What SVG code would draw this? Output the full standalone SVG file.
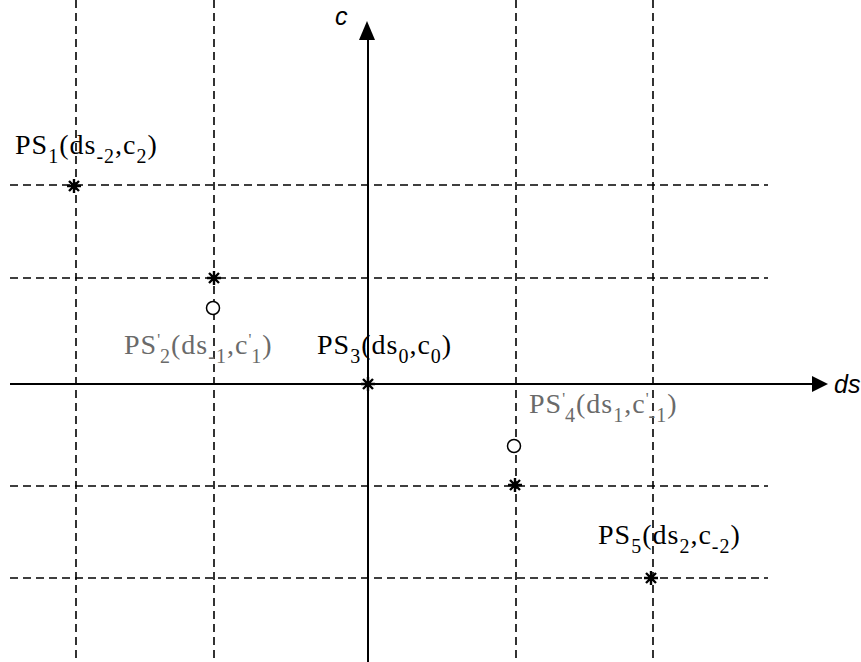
<svg xmlns="http://www.w3.org/2000/svg" width="861" height="662" viewBox="0 0 861 662">
<defs>
<style>
.grid{stroke:#000;stroke-width:1.6;stroke-dasharray:8 5;fill:none}
.axis{stroke:#000;stroke-width:2;fill:none}
.lbl{font-family:"Liberation Serif",serif;font-size:28px;letter-spacing:1px;fill:#000}
.gray{fill:#6a6a6a}
.sub{font-size:20px}
.pr{font-size:16px;letter-spacing:0}
.ax{font-family:"Liberation Sans",sans-serif;font-style:italic;font-size:25px;fill:#000}
.circ{fill:#fff;stroke:#000;stroke-width:1.5}
</style>
<g id="star"><path d="M-7 0H7M0 -7V7M-5 -5L5 5M-5 5L5 -5" stroke="#000" stroke-width="2.4"/></g>
</defs>
<rect width="861" height="662" fill="#fff"/>
<g id="connectors">
<path class="grid" d="M76 0V662M214 0V662M516 0V662M653 0V662"/>
<path class="grid" d="M10 185H768M10 278H768M10 486H768M10 578H768"/>
<path class="axis" d="M10 384H815M368 662V38"/>
<polygon points="812,376 828,384 812,392" fill="#000"/>
<polygon points="359,40 367,21 375,40" fill="#000"/>
</g>
<g id="axis-c"><text class="ax" x="335" y="25">c</text></g>
<g id="axis-ds"><text class="ax" x="834" y="393">ds</text></g>
<g id="PS1"><use href="#star" x="74" y="186"/>
<text class="lbl" x="15" y="154">PS<tspan class="sub" dy="9">1</tspan><tspan dy="-9">(ds</tspan><tspan class="sub" dy="9">-2</tspan><tspan dy="-9">,c</tspan><tspan class="sub" dy="9">2</tspan><tspan dy="-9">)</tspan></text></g>
<g id="PS2p"><use href="#star" x="214" y="278"/><circle class="circ" cx="213" cy="308" r="6.5"/>
<text class="lbl gray" x="124" y="354">PS<tspan dy="-9" class="pr">'</tspan><tspan class="sub" dy="18">2</tspan><tspan dy="-9">(ds</tspan><tspan class="sub" dy="9">-1</tspan><tspan dy="-9">,c</tspan><tspan class="pr" dy="-9">'</tspan><tspan class="sub" dy="18">1</tspan><tspan dy="-9">)</tspan></text></g>
<g id="PS3"><use href="#star" x="368" y="384"/>
<text class="lbl" x="317" y="354">PS<tspan class="sub" dy="9">3</tspan><tspan dy="-9">(ds</tspan><tspan class="sub" dy="9">0</tspan><tspan dy="-9">,c</tspan><tspan class="sub" dy="9">0</tspan><tspan dy="-9">)</tspan></text></g>
<g id="PS4p"><circle class="circ" cx="514" cy="446" r="6.5"/><use href="#star" x="515" y="485"/>
<text class="lbl gray" x="529" y="413">PS<tspan dy="-9" class="pr">'</tspan><tspan class="sub" dy="18">4</tspan><tspan dy="-9">(ds</tspan><tspan class="sub" dy="9">1</tspan><tspan dy="-9">,c</tspan><tspan class="pr" dy="-9">'</tspan><tspan class="sub" dy="18">-1</tspan><tspan dy="-9">)</tspan></text></g>
<g id="PS5"><use href="#star" x="651" y="578"/>
<text class="lbl" x="598" y="544">PS<tspan class="sub" dy="9">5</tspan><tspan dy="-9">(ds</tspan><tspan class="sub" dy="9">2</tspan><tspan dy="-9">,c</tspan><tspan class="sub" dy="9">-2</tspan><tspan dy="-9">)</tspan></text></g>
</svg>
